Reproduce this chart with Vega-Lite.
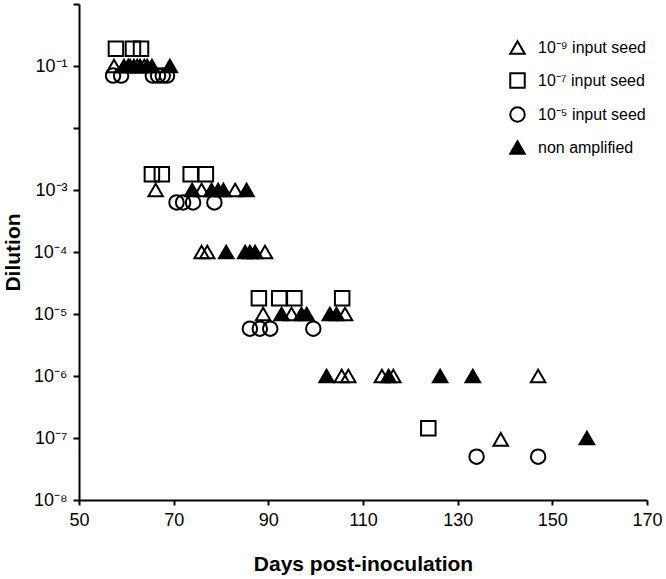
{
  "$schema": "https://vega.github.io/schema/vega-lite/v6.json",
  "width": 568,
  "height": 496,
  "autosize": "none",
  "padding": {"left": 79, "top": 4, "right": 19, "bottom": 79},
  "background": "white",
  "config": {
    "view": {"stroke": null},
    "font": "Liberation Sans",
    "axis": {"grid": false, "domainColor": "black", "domainWidth": 2, "tickColor": "black", "tickWidth": 2, "labelColor": "black", "titleColor": "black", "labelFont": "Liberation Sans", "titleFont": "Liberation Sans"}
  },
  "data": {"values": [
    {"series": "10⁻⁹ input seed", "day": 57.4, "dilution": 0.1},
    {"series": "10⁻⁹ input seed", "day": 60.8, "dilution": 0.1},
    {"series": "10⁻⁹ input seed", "day": 62.3, "dilution": 0.1},
    {"series": "10⁻⁹ input seed", "day": 63.8, "dilution": 0.1},
    {"series": "10⁻⁹ input seed", "day": 66.2, "dilution": 0.001},
    {"series": "10⁻⁹ input seed", "day": 75.9, "dilution": 0.001},
    {"series": "10⁻⁹ input seed", "day": 83.0, "dilution": 0.001},
    {"series": "10⁻⁹ input seed", "day": 75.9, "dilution": 0.0001},
    {"series": "10⁻⁹ input seed", "day": 77.1, "dilution": 0.0001},
    {"series": "10⁻⁹ input seed", "day": 89.3, "dilution": 0.0001},
    {"series": "10⁻⁹ input seed", "day": 88.9, "dilution": 0.00001},
    {"series": "10⁻⁹ input seed", "day": 94.9, "dilution": 0.00001},
    {"series": "10⁻⁹ input seed", "day": 106.2, "dilution": 0.00001},
    {"series": "10⁻⁹ input seed", "day": 105.5, "dilution": 0.000001},
    {"series": "10⁻⁹ input seed", "day": 106.9, "dilution": 0.000001},
    {"series": "10⁻⁹ input seed", "day": 114.0, "dilution": 0.000001},
    {"series": "10⁻⁹ input seed", "day": 116.4, "dilution": 0.000001},
    {"series": "10⁻⁹ input seed", "day": 147.0, "dilution": 0.000001},
    {"series": "10⁻⁹ input seed", "day": 139.1, "dilution": 9.5e-8},
    {"series": "10⁻⁷ input seed", "day": 57.8, "dilution": 0.19},
    {"series": "10⁻⁷ input seed", "day": 61.4, "dilution": 0.19},
    {"series": "10⁻⁷ input seed", "day": 63.1, "dilution": 0.19},
    {"series": "10⁻⁷ input seed", "day": 65.4, "dilution": 0.0018},
    {"series": "10⁻⁷ input seed", "day": 67.5, "dilution": 0.0018},
    {"series": "10⁻⁷ input seed", "day": 73.6, "dilution": 0.0018},
    {"series": "10⁻⁷ input seed", "day": 76.8, "dilution": 0.0018},
    {"series": "10⁻⁷ input seed", "day": 88.0, "dilution": 0.000018},
    {"series": "10⁻⁷ input seed", "day": 92.3, "dilution": 0.000018},
    {"series": "10⁻⁷ input seed", "day": 95.5, "dilution": 0.000018},
    {"series": "10⁻⁷ input seed", "day": 105.6, "dilution": 0.000018},
    {"series": "10⁻⁷ input seed", "day": 123.8, "dilution": 1.43e-7},
    {"series": "10⁻⁵ input seed", "day": 57.2, "dilution": 0.07},
    {"series": "10⁻⁵ input seed", "day": 58.9, "dilution": 0.07},
    {"series": "10⁻⁵ input seed", "day": 65.6, "dilution": 0.07},
    {"series": "10⁻⁵ input seed", "day": 66.7, "dilution": 0.07},
    {"series": "10⁻⁵ input seed", "day": 67.7, "dilution": 0.07},
    {"series": "10⁻⁵ input seed", "day": 68.6, "dilution": 0.07},
    {"series": "10⁻⁵ input seed", "day": 70.6, "dilution": 0.00063},
    {"series": "10⁻⁵ input seed", "day": 72.0, "dilution": 0.00063},
    {"series": "10⁻⁵ input seed", "day": 74.1, "dilution": 0.00063},
    {"series": "10⁻⁵ input seed", "day": 78.6, "dilution": 0.00063},
    {"series": "10⁻⁵ input seed", "day": 86.1, "dilution": 0.0000058},
    {"series": "10⁻⁵ input seed", "day": 88.2, "dilution": 0.0000058},
    {"series": "10⁻⁵ input seed", "day": 90.4, "dilution": 0.0000058},
    {"series": "10⁻⁵ input seed", "day": 99.5, "dilution": 0.0000058},
    {"series": "10⁻⁵ input seed", "day": 134.0, "dilution": 5e-8},
    {"series": "10⁻⁵ input seed", "day": 147.0, "dilution": 5e-8},
    {"series": "non amplified", "day": 59.5, "dilution": 0.1},
    {"series": "non amplified", "day": 60.4, "dilution": 0.1},
    {"series": "non amplified", "day": 61.6, "dilution": 0.1},
    {"series": "non amplified", "day": 62.9, "dilution": 0.1},
    {"series": "non amplified", "day": 64.4, "dilution": 0.1},
    {"series": "non amplified", "day": 65.4, "dilution": 0.1},
    {"series": "non amplified", "day": 69.2, "dilution": 0.1},
    {"series": "non amplified", "day": 73.9, "dilution": 0.001},
    {"series": "non amplified", "day": 78.0, "dilution": 0.001},
    {"series": "non amplified", "day": 79.4, "dilution": 0.001},
    {"series": "non amplified", "day": 80.5, "dilution": 0.001},
    {"series": "non amplified", "day": 85.4, "dilution": 0.001},
    {"series": "non amplified", "day": 81.1, "dilution": 0.0001},
    {"series": "non amplified", "day": 85.1, "dilution": 0.0001},
    {"series": "non amplified", "day": 86.1, "dilution": 0.0001},
    {"series": "non amplified", "day": 87.2, "dilution": 0.0001},
    {"series": "non amplified", "day": 92.8, "dilution": 0.00001},
    {"series": "non amplified", "day": 97.0, "dilution": 0.00001},
    {"series": "non amplified", "day": 98.1, "dilution": 0.00001},
    {"series": "non amplified", "day": 103.0, "dilution": 0.00001},
    {"series": "non amplified", "day": 104.4, "dilution": 0.00001},
    {"series": "non amplified", "day": 102.3, "dilution": 0.000001},
    {"series": "non amplified", "day": 115.4, "dilution": 0.000001},
    {"series": "non amplified", "day": 126.3, "dilution": 0.000001},
    {"series": "non amplified", "day": 133.2, "dilution": 0.000001},
    {"series": "non amplified", "day": 157.3, "dilution": 1e-7}
  ]},
  "mark": {"type": "point", "filled": false, "strokeWidth": 2, "size": 210, "opacity": 1},
  "encoding": {
    "x": {
      "field": "day", "type": "quantitative",
      "scale": {"domain": [50, 170], "nice": false, "zero": false},
      "axis": {"values": [50, 70, 90, 110, 130, 150, 170], "title": "Days post-inoculation", "labelFontSize": 18, "titleFontSize": 21, "titleFontWeight": "bold", "tickSize": 5, "labelPadding": 6, "titlePadding": 24, "labelFlush": false}
    },
    "y": {
      "field": "dilution", "type": "quantitative",
      "scale": {"type": "log", "domain": [1e-8, 1], "nice": false},
      "axis": {"values": [1, 0.1, 0.01, 0.001, 0.0001, 0.00001, 0.000001, 1e-7, 1e-8], "labelExpr": "['', '10⁻¹', '', '10⁻³', '10⁻⁴', '10⁻⁵', '10⁻⁶', '10⁻⁷', '10⁻⁸'][round(-log(datum.value)/LN10)]", "title": "Dilution", "labelFontSize": 18, "titleFontSize": 21, "titleFontWeight": "bold", "tickSize": 6, "labelPadding": 6, "titlePadding": 10, "labelFlush": false}
    },
    "shape": {
      "field": "series", "type": "nominal",
      "scale": {"domain": ["10⁻⁹ input seed", "10⁻⁷ input seed", "10⁻⁵ input seed", "non amplified"], "range": ["triangle-up", "square", "circle", "triangle-up"]},
      "legend": {"orient": "none", "legendX": 430, "legendY": 35, "title": null, "labelFontSize": 16, "labelColor": "black", "labelFont": "Liberation Sans", "symbolSize": 210, "symbolStrokeWidth": 2, "rowPadding": 11, "labelOffset": 12, "padding": 0}
    },
    "fill": {
      "field": "series", "type": "nominal",
      "scale": {"domain": ["10⁻⁹ input seed", "10⁻⁷ input seed", "10⁻⁵ input seed", "non amplified"], "range": ["transparent", "transparent", "transparent", "black"]},
      "legend": {"orient": "none", "legendX": 430, "legendY": 35, "title": null, "labelFontSize": 16, "labelColor": "black", "labelFont": "Liberation Sans", "symbolSize": 210, "symbolStrokeWidth": 2, "rowPadding": 11, "labelOffset": 12, "padding": 0}
    },
    "stroke": {
      "field": "series", "type": "nominal",
      "scale": {"domain": ["10⁻⁹ input seed", "10⁻⁷ input seed", "10⁻⁵ input seed", "non amplified"], "range": ["black", "black", "black", "black"]},
      "legend": {"orient": "none", "legendX": 430, "legendY": 35, "title": null, "labelFontSize": 16, "labelColor": "black", "labelFont": "Liberation Sans", "symbolSize": 210, "symbolStrokeWidth": 2, "rowPadding": 11, "labelOffset": 12, "padding": 0}
    }
  }
}
